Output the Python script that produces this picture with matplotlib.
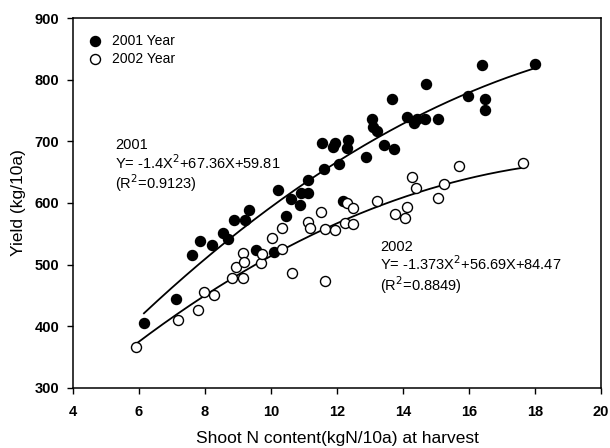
import numpy as np
import matplotlib
matplotlib.use("Agg")
import matplotlib.pyplot as plt

plt.rcParams['font.family'] = ['Liberation Sans', 'DejaVu Sans']

# Shoot N content (kgN/10a) and yield (kg/10a), 2001 season
n_2001 = [6.15, 7.11, 7.60, 7.85, 8.22, 8.56, 8.71, 8.89, 9.21, 9.32,
          9.55, 10.08, 10.22, 10.45, 10.60, 10.87, 10.90, 11.12, 11.12, 11.60,
          12.05, 11.55, 11.94, 11.89, 12.34, 12.29, 12.19, 12.87, 13.05, 13.08,
          13.20, 13.42, 13.72, 13.66, 14.11, 14.32, 14.41, 14.67, 14.71, 15.05,
          15.96, 16.40, 16.50, 16.48, 18.00]
y_2001 = [406, 445, 516, 538, 532, 552, 541, 572, 572, 589,
          524, 520, 621, 579, 606, 597, 617, 617, 637, 655,
          663, 698, 698, 690, 702, 689, 603, 675, 736, 724,
          717, 694, 688, 769, 739, 730, 737, 737, 793, 736,
          774, 823, 768, 751, 825]

# 2002 season
n_2002 = [5.91, 7.17, 7.80, 7.98, 8.26, 8.82, 8.93, 9.15, 9.17, 9.16,
          9.70, 9.72, 10.02, 10.33, 10.34, 10.63, 11.13, 11.18, 11.53, 11.65,
          11.64, 11.93, 12.23, 12.48, 12.30, 12.49, 13.21, 13.76, 14.05, 14.13,
          14.26, 14.38, 15.05, 15.23, 15.70, 17.63]
y_2002 = [367, 410, 426, 455, 451, 478, 496, 519, 504, 478,
          503, 518, 544, 526, 560, 486, 569, 559, 585, 558,
          473, 557, 567, 566, 600, 592, 604, 582, 575, 594,
          642, 625, 608, 630, 660, 665]

# Quadratic regression coefficients (a, b, c) for Y = aX^2 + bX + c
coef_2001 = (-1.4, 67.36, 59.81)
coef_2002 = (-1.373, 56.69, 84.47)
r2_2001 = 0.9123
r2_2002 = 0.8849

x_ticks = [4, 6, 8, 10, 12, 14, 16, 18, 20]
y_ticks = [300, 400, 500, 600, 700, 800, 900]

fig = plt.figure(figsize=(6.10, 4.48), dpi=100)
ax = fig.add_axes([0.1197, 0.134, 0.8655, 0.8258])

ax.scatter(n_2001, y_2001, s=52, facecolor='black', edgecolor='black',
           linewidth=1.0, zorder=3, label='2001 Year')
ax.scatter(n_2002, y_2002, s=52, facecolor='white', edgecolor='black',
           linewidth=1.0, zorder=3, label='2002 Year')

for xs, (a, b, c) in ((n_2001, coef_2001), (n_2002, coef_2002)):
    xx = np.linspace(min(xs), max(xs), 200)
    ax.plot(xx, a * xx ** 2 + b * xx + c, color='black', lw=1.3, zorder=2)

ax.set_xlim(4, 20)
ax.set_ylim(300, 900)
ax.set_xticks(x_ticks)
ax.set_yticks(y_ticks)
ax.tick_params(direction='out', length=4, width=1, labelsize=10.5, pad=6)
ax.tick_params(axis='x', pad=8)
for lab in ax.get_xticklabels() + ax.get_yticklabels():
    lab.set_fontweight('bold')
for sp in ax.spines.values():
    sp.set_linewidth(1.1)

ax.set_xlabel('Shoot N content(kgN/10a) at harvest', fontsize=12.5, labelpad=9)
ax.set_ylabel('Yield (kg/10a)', fontsize=12.5, labelpad=6)

ax.legend(loc='upper left', bbox_to_anchor=(0.0, 0.98), frameon=False,
          fontsize=10, handletextpad=0.2, labelspacing=0.3,
          borderaxespad=0.2, scatterpoints=1)


def eq_block(a, b, c, r2, year):
    return ('%s\nY= %sX$^2$+%.2fX+%.2f\n(R$^2$=%.4f)'
            % (year, ('%g' % a), b, c, r2))


eq_fs = 10.5
ax.text(5.27, 705, eq_block(*coef_2001, r2_2001, '2001'), fontsize=eq_fs,
        va='top', ha='left', linespacing=1.05)
ax.text(13.3, 540, eq_block(*coef_2002, r2_2002, '2002'), fontsize=eq_fs,
        va='top', ha='left', linespacing=1.05)

fig.savefig('out.png', dpi=100)
